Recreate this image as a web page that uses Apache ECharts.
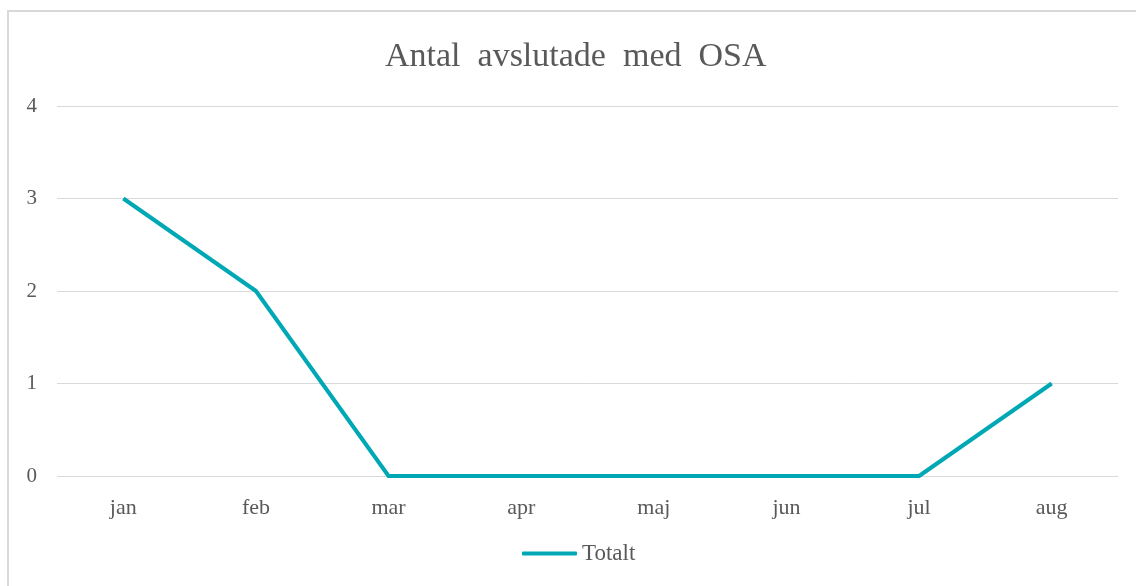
<!DOCTYPE html>
<html>
<head>
<meta charset="utf-8">
<script src="https://cdn.jsdelivr.net/npm/echarts@6/dist/echarts.min.js"></script>
<style>
html,body{margin:0;padding:0;background:#fff;}
#main{width:1136px;height:586px;}
</style>
</head>
<body>
<div id="main"></div>
<script>
var months = ["jan", "feb", "mar", "apr", "maj", "jun", "jul", "aug"];
var totalt = [3, 2, 0, 0, 0, 0, 0, 1];
var yTicks = [0, 1, 2, 3, 4];

var chart = echarts.init(document.getElementById("main"));
var font = '"Liberation Serif", "Times New Roman", serif';
var option = {
    backgroundColor: '#fff',
    title: {
        text: 'Antal  avslutade  med  OSA',
        left: 380,
        top: 35,
        textStyle: {
            fontFamily: font,
            fontSize: 34,
            fontWeight: 'normal',
            color: '#595959'
        }
    },
    graphic: [{
        type: 'rect',
        shape: {x: 8, y: 11, width: 1150, height: 600},
        style: {fill: 'none', stroke: '#d9d9d9', lineWidth: 2},
        silent: true
    }],
    legend: {
        bottom: 16,
        left: 517,
        itemWidth: 55,
        itemHeight: 4,
        itemGap: 6,
        icon: 'roundRect',
        textStyle: {fontFamily: font, fontSize: 23, color: '#595959'},
        data: ['Totalt']
    },
    grid: {
        left: 57,
        right: 18,
        top: 106,
        bottom: 110
    },
    xAxis: {
        type: 'category',
        data: months,
        boundaryGap: true,
        axisLine: {show: false},
        axisTick: {show: false},
        axisLabel: {
            margin: 21,
            fontFamily: font,
            fontSize: 22,
            color: '#595959'
        }
    },
    yAxis: {
        type: 'value',
        min: yTicks[0],
        max: yTicks[yTicks.length - 1],
        interval: 1,
        axisLine: {show: false},
        axisTick: {show: false},
        splitLine: {lineStyle: {color: '#d9d9d9', width: 1}},
        axisLabel: {
            margin: 20,
            fontFamily: font,
            fontSize: 21,
            color: '#595959'
        }
    },
    series: [{
        name: 'Totalt',
        type: 'line',
        data: totalt,
        symbol: 'none',
        lineStyle: {color: '#00a8b5', width: 4, join: 'round'},
        itemStyle: {color: '#00a8b5'}
    }]
};
chart.setOption(option);
</script>
</body>
</html>
